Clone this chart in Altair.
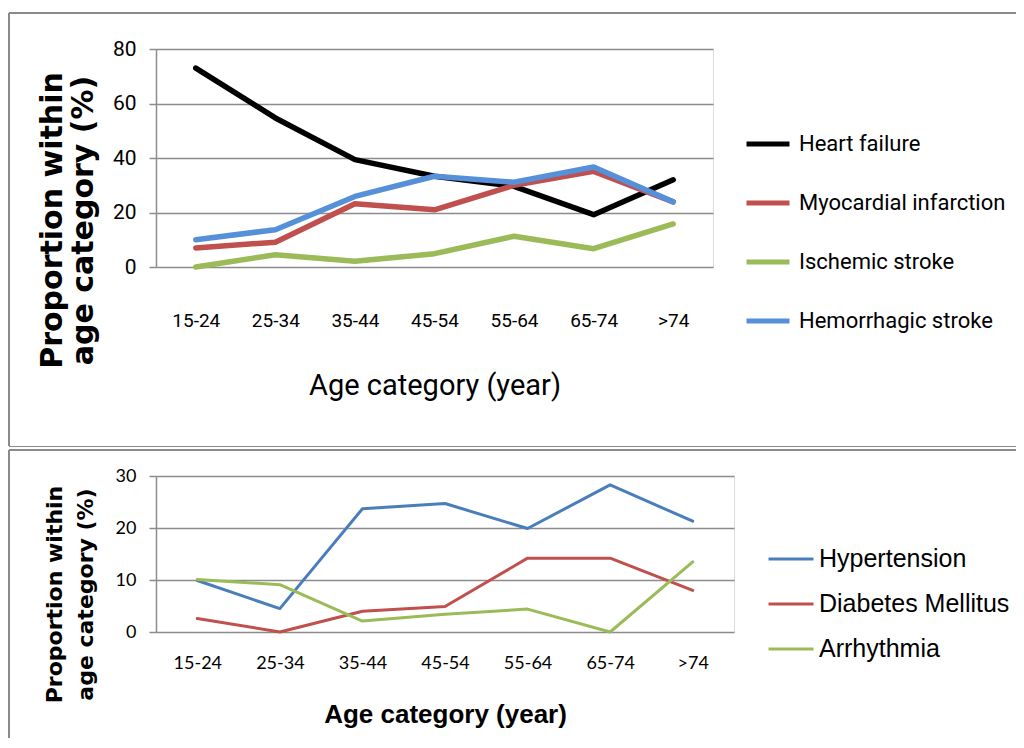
import altair as alt
import pandas as pd

ages = ["15-24", "25-34", "35-44", "45-54", "55-64", "65-74", ">74"]

top_series = ["Heart failure", "Myocardial infarction", "Ischemic stroke", "Hemorrhagic stroke"]
heart_failure = [73.0, 54.7, 39.4, 33.3, 29.6, 19.2, 32.0]
myocardial = [7.0, 9.1, 23.2, 21.0, 30.0, 35.1, 23.9]
ischemic = [0.0, 4.5, 2.1, 4.9, 11.3, 6.7, 15.8]
hemorrhagic = [10.0, 13.7, 25.9, 33.3, 31.1, 36.7, 23.9]
top_colors = ["#000000", "#C0504D", "#9BBB59", "#5590D8"]

bottom_series = ["Hypertension", "Diabetes Mellitus", "Arrhythmia"]
hypertension = [9.9, 4.5, 23.7, 24.7, 19.9, 28.3, 21.3]
diabetes = [2.6, 0.0, 4.0, 4.9, 14.2, 14.2, 8.0]
arrhythmia = [10.1, 9.1, 2.1, 3.4, 4.4, 0.0, 13.5]
bottom_colors = ["#4A7EBB", "#C0504D", "#9BBB59"]

top_ticks = [0, 20, 40, 60, 80]
bottom_ticks = [0, 10, 20, 30]


def long_table(names, arrays):
    rows = []
    for name, vals in zip(names, arrays):
        for a, v in zip(ages, vals):
            rows.append({"age": a, "series": name, "value": v})
    return pd.DataFrame(rows)


df_top = long_table(top_series, [heart_failure, myocardial, ischemic, hemorrhagic])
df_bottom = long_table(bottom_series, [hypertension, diabetes, arrhythmia])

GRAY = "#8c8c8c"
FRAME = "#8a8a8a"
NARROW = "Roboto"
BOLD_T = "DejaVu Sans"
TICKF = "Lato"

one = pd.DataFrame({"k": [0]})


def frame(top_y, bottom_y, width_right):
    base = alt.Chart(one)
    top_rule = base.mark_rule(color=FRAME, strokeWidth=2).encode(
        x=alt.value(-147), x2=alt.value(width_right), y=alt.value(top_y))
    left_rule = base.mark_rule(color=FRAME, strokeWidth=2).encode(
        x=alt.value(-147), y=alt.value(top_y), y2=alt.value(bottom_y))
    return top_rule, left_rule


# ---------------- top panel ----------------
TW, TH = 557, 218
top_lines = alt.Chart(df_top).mark_line(
    strokeWidth=5.5, strokeCap="round", strokeJoin="round"
).encode(
    x=alt.X("age:N", sort=ages, scale=alt.Scale(type="point", padding=0.5),
            axis=alt.Axis(title="Age category (year)", ticks=False, domain=False, grid=False,
                          labelAngle=0, labelFont=NARROW, labelFontSize=19, labelColor="#000",
                          labelPadding=53, labelBaseline="middle",
                          titleFont=NARROW, titleFontSize=29, titleFontWeight="normal",
                          titleColor="#000", titleY=118, titleBaseline="middle")),
    y=alt.Y("value:Q", scale=alt.Scale(domain=[0, 80]),
            axis=alt.Axis(values=top_ticks, title=["Proportion within", "age category (%)"],
                          titleFont=BOLD_T, titleFontSize=30, titleFontWeight="bold",
                          titleColor="#000", titleLineHeight=31, titleX=-95, titleY=171,
                          titleBaseline="alphabetic", titleAlign="center", titleAngle=270,
                          labelFont=NARROW, labelFontSize=21, labelColor="#000", labelPadding=13,
                          tickSize=7, tickColor=GRAY, tickWidth=1.5, domainColor=GRAY, domainWidth=1.5,
                          gridColor=GRAY, gridWidth=1.5)),
    color=alt.Color("series:N", sort=top_series,
                    scale=alt.Scale(domain=top_series, range=top_colors),
                    legend=alt.Legend(orient="none", legendX=588, legendY=71, title=None,
                                      symbolType="stroke", symbolSize=1849, symbolStrokeWidth=5,
                                      labelFont=NARROW, labelFontSize=22, labelColor="#000",
                                      labelOffset=7, rowPadding=24, padding=0, labelLimit=0)),
)
t_top, t_left = frame(-36, 397, 880)
t_bottom = alt.Chart(one).mark_rule(color=FRAME, strokeWidth=1).encode(
    x=alt.value(-147), x2=alt.value(880), y=alt.value(397.5))
top_chart = alt.layer(t_top, t_left, t_bottom, top_lines).properties(width=TW, height=TH)

# ---------------- bottom panel ----------------
BW, BH = 578, 156
bottom_lines = alt.Chart(df_bottom).mark_line(
    strokeWidth=3, strokeCap="round", strokeJoin="round"
).encode(
    x=alt.X("age:N", sort=ages, scale=alt.Scale(type="point", padding=0.5),
            axis=alt.Axis(title="Age category (year)", ticks=False, domain=False, grid=False,
                          labelAngle=0, labelFont=TICKF, labelFontSize=18, labelColor="#000",
                          labelPadding=31, labelBaseline="middle",
                          titleFont="Liberation Sans", titleFontSize=26, titleFontWeight="bold",
                          titleColor="#000", titleY=82, titleBaseline="middle")),
    y=alt.Y("value:Q", scale=alt.Scale(domain=[0, 30]),
            axis=alt.Axis(values=bottom_ticks, title=["Proportion within", "age category (%)"],
                          titleFont=BOLD_T, titleFontSize=22, titleFontWeight="bold",
                          titleColor="#000", titleLineHeight=31, titleX=-95, titleY=118,
                          titleBaseline="alphabetic", titleAlign="center", titleAngle=270,
                          labelFont=TICKF, labelFontSize=18, labelColor="#000", labelPadding=13,
                          tickSize=7, tickColor=GRAY, tickWidth=1.5, domainColor=GRAY, domainWidth=1.5,
                          gridColor=GRAY, gridWidth=1.5)),
    color=alt.Color("series:N", sort=bottom_series,
                    scale=alt.Scale(domain=bottom_series, range=bottom_colors),
                    legend=alt.Legend(orient="none", legendX=611, legendY=59, title=None,
                                      symbolType="stroke", symbolSize=2025, symbolStrokeWidth=3,
                                      labelFont="Liberation Sans", labelFontSize=25, labelColor="#000",
                                      labelOffset=4, rowPadding=8, padding=0, labelLimit=0)),
)
b_top, b_left = frame(-26, 300, 880)
bottom_chart = alt.layer(b_top, b_left, bottom_lines).properties(width=BW, height=BH)

chart = alt.vconcat(top_chart, bottom_chart, spacing=0).resolve_scale(
    color="independent", x="independent", y="independent"
).properties(
    autosize=alt.AutoSizeParams(type="none"),
    padding={"left": 148, "top": 41, "right": 860, "bottom": 689}
).configure_view(stroke=None).configure(background="white")

chart.save("out.html", embed_options={"renderer": "svg", "actions": False})
